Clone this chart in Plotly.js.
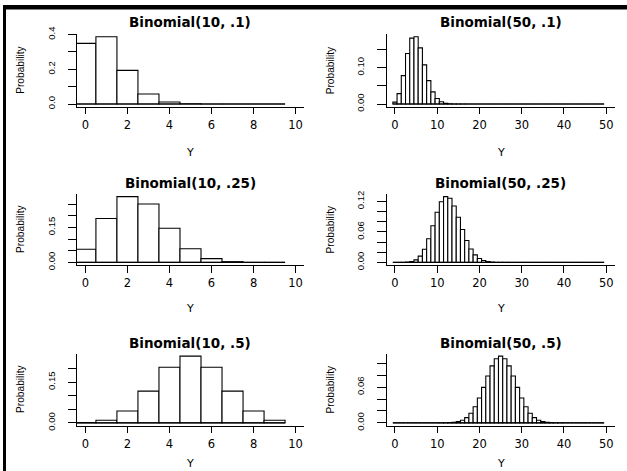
<!DOCTYPE html>
<html><head><meta charset="utf-8">
<script src="https://cdn.plot.ly/plotly-3.0.1.min.js"></script>
<style>
html,body{margin:0;padding:0;background:#fff;}
#chart{width:627px;height:471px;}
</style>
</head><body><div id="chart"></div>
<script>
// ---- data ----
const k10 = [0,1,2,3,4,5,6,7,8,9];
const k50 = [0,1,2,3,4,5,6,7,8,9,10,11,12,13,14,15,16,17,18,19,20,21,22,23,24,
             25,26,27,28,29,30,31,32,33,34,35,36,37,38,39,40,41,42,43,44,45,46,47,48,49];

const p10_1  = [0.3487,0.3874,0.1937,0.0574,0.0112,0.0015,0.0001,0,0,0];
const p10_25 = [0.0563,0.1877,0.2816,0.2503,0.1460,0.0584,0.0162,0.0031,0.0004,0.0000];
const p10_5  = [0.0010,0.0098,0.0439,0.1172,0.2051,0.2461,0.2051,0.1172,0.0439,0.0098];

const p50_1 = [0.00515,0.02863,0.07794,0.13857,0.18090,0.18492,0.15410,0.10763,0.06428,0.03333,
               0.01518,0.00613,0.00222,0.00072,0.00021,0.00006,0.00001,0,0,0,
               0,0,0,0,0,0,0,0,0,0, 0,0,0,0,0,0,0,0,0,0, 0,0,0,0,0,0,0,0,0,0];
const p50_25 = [0.0000006,0.0000094,0.0000771,0.0004111,0.0016102,0.0049379,0.0123447,0.0258651,0.0463416,0.0720869,
                0.0985188,0.1194167,0.1293681,0.1260510,0.1110449,0.0888359,0.0647762,0.0431841,0.0263903,0.0148156,
                0.0076547,0.0036451,0.0016016,0.0006499,0.0002437,0.0000845,0.0000271,0.0000080,0.0000022,0.0000006,
                0,0,0,0,0,0,0,0,0,0, 0,0,0,0,0,0,0,0,0,0];
const p50_5 = [0,0,0,0,0,0,0,0,0.0000005,0.0000022,
               0.0000091,0.0000332,0.0001078,0.0003152,0.0008330,0.0019991,0.0043731,0.0087462,0.0160347,0.0270059,
               0.0418592,0.0597988,0.0788257,0.0959617,0.1079569,0.1122752,0.1079569,0.0959617,0.0788257,0.0597988,
               0.0418592,0.0270059,0.0160347,0.0087462,0.0043731,0.0019991,0.0008330,0.0003152,0.0001078,0.0000332,
               0.0000091,0.0000022,0.0000005,0,0,0,0,0,0,0];

const titles = ['Binomial(10, .1)','Binomial(50, .1)','Binomial(10, .25)','Binomial(50, .25)','Binomial(10, .5)','Binomial(50, .5)'];

const xticks10 = [0,2,4,6,8,10];
const xticks50 = [0,10,20,30,40,50];

const yt10_1  = [0,0.1,0.2,0.3,0.4];          const yl10_1  = ['0.0','','0.2','','0.4'];
const yt50_1  = [0,0.05,0.10,0.15];           const yl50_1  = ['0.00','','0.10',''];
const yt10_25 = [0,0.05,0.10,0.15,0.20,0.25]; const yl10_25 = ['0.00','','','0.15','',''];
const yt50_25 = [0,0.02,0.04,0.06,0.08,0.10,0.12]; const yl50_25 = ['0.00','','','0.06','','','0.12'];
const yt10_5  = [0,0.05,0.10,0.15,0.20];      const yl10_5  = ['0.00','','','0.15',''];
const yt50_5  = [0,0.02,0.04,0.06,0.08,0.10]; const yl50_5  = ['0.00','','','0.06','',''];

const xLabel = 'Y';
const yLabel = 'Probability';

// ---- layout geometry (px) ----
const W = 627, H = 471;
const colX = [[77,304],[386.5,614.7]];
const rowY = [[34,106.7],[194,265],[353.5,425.5]];
const titleY = [22,182.5,342.5];
const xlabY = [153,308.5,463.5];

const panels = [
  {k:k10, p:p10_1,  n:10, xt:xticks10, yt:yt10_1,  yl:yl10_1},
  {k:k50, p:p50_1,  n:50, xt:xticks50, yt:yt50_1,  yl:yl50_1},
  {k:k10, p:p10_25, n:10, xt:xticks10, yt:yt10_25, yl:yl10_25},
  {k:k50, p:p50_25, n:50, xt:xticks50, yt:yt50_25, yl:yl50_25},
  {k:k10, p:p10_5,  n:10, xt:xticks10, yt:yt10_5,  yl:yl10_5},
  {k:k50, p:p50_5,  n:50, xt:xticks50, yt:yt50_5,  yl:yl50_5}
];

const fx = px => px / W;
const fy = px => 1 - px / H;

const data = [];
const layout = {
  width: W, height: H,
  margin: {l:0, r:0, t:0, b:0},
  paper_bgcolor: '#fff', plot_bgcolor: '#fff',
  showlegend: false,
  annotations: [], shapes: []
};

const tickFontX = {family:'DejaVu Sans, sans-serif', size:11.5, color:'#000'};
const tickFontY = {family:'Liberation Sans, Arial, sans-serif', size:9.5, color:'#000'};

panels.forEach((pn, i) => {
  const c = i % 2, r = Math.floor(i / 2);
  const id = i + 1;
  const xa = 'x' + (id === 1 ? '' : id), ya = 'y' + (id === 1 ? '' : id);
  const xkey = 'xaxis' + (id === 1 ? '' : id), ykey = 'yaxis' + (id === 1 ? '' : id);
  const pmax = Math.max(...pn.p);

  data.push({
    type: 'bar', x: pn.k, y: pn.p, width: 1,
    xaxis: xa, yaxis: ya,
    marker: {color: '#fff', line: {color: '#000', width: 1.1}},
    hoverinfo: 'x+y'
  });
  // bar bottoms along zero (spans the drawn categories)
  data.push({
    type: 'scatter', mode: 'lines',
    x: [pn.k[0] - 0.5, pn.k[pn.k.length - 1] + 0.5], y: [0, 0],
    xaxis: xa, yaxis: ya,
    line: {color: '#000', width: 1}, hoverinfo: 'skip'
  });

  layout[xkey] = {
    domain: [fx(colX[c][0]), fx(colX[c][1])],
    anchor: ya,
    range: [-0.04 * pn.n, 1.04 * pn.n],
    tickmode: 'array', tickvals: pn.xt, ticktext: pn.xt.map(String),
    ticks: 'outside', ticklen: 6.5, tickwidth: 1, tickcolor: '#000',
    showline: true, linecolor: '#000', linewidth: 1,
    showgrid: false, zeroline: false,
    tickfont: tickFontX, ticklabelstandoff: 1,
    fixedrange: true
  };
  layout[ykey] = {
    domain: [fy(rowY[r][1]), fy(rowY[r][0])],
    anchor: xa,
    range: [-0.04 * pmax, 1.04 * pmax],
    tickmode: 'array', tickvals: pn.yt, ticktext: pn.yl,
    tickangle: -90,
    ticks: 'outside', ticklen: 8.5, tickwidth: 1, tickcolor: '#000',
    showline: true, linecolor: '#000', linewidth: 1,
    showgrid: false, zeroline: false,
    tickfont: tickFontY, ticklabelstandoff: 9,
    fixedrange: true
  };

  const cx = (colX[c][0] + colX[c][1]) / 2;
  layout.annotations.push({
    text: '<b>' + titles[i] + '</b>', xref: 'paper', yref: 'paper',
    x: fx(cx), y: fy(titleY[r]), xanchor: 'center', yanchor: 'middle',
    showarrow: false, font: {family: 'DejaVu Sans, sans-serif', size: 13.5, color: '#000'}
  });
  layout.annotations.push({
    text: xLabel, xref: 'paper', yref: 'paper',
    x: fx(cx), y: fy(xlabY[r]), xanchor: 'center', yanchor: 'middle',
    showarrow: false, font: {family: 'DejaVu Sans, sans-serif', size: 11, color: '#000'}
  });
  layout.annotations.push({
    text: yLabel, xref: 'paper', yref: 'paper', textangle: -90,
    x: fx(colX[c][0] - 56.5), y: fy((rowY[r][0] + rowY[r][1]) / 2),
    xanchor: 'center', yanchor: 'middle',
    showarrow: false, font: {family: 'Liberation Sans, Arial, sans-serif', size: 10.2, color: '#000'}
  });
});

// outer frame (left and top edges)
layout.shapes.push({type:'rect', xref:'paper', yref:'paper', x0: fx(3), x1: 1, y0: fy(9.5), y1: fy(5),
                    fillcolor:'#000', line:{width:0}, layer:'above'});
layout.shapes.push({type:'line', xref:'paper', yref:'paper', x0: fx(4.5), x1: fx(4.5), y0: 0, y1: fy(5.5),
                    line:{color:'#000', width:3}, layer:'above'});

Plotly.newPlot('chart', data, layout, {displayModeBar: false, staticPlot: true});
</script>
</body></html>
